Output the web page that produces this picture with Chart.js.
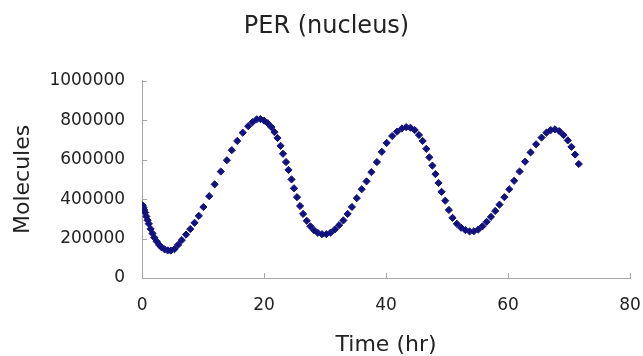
<!DOCTYPE html>
<html>
<head>
<meta charset="utf-8">
<script src="https://cdn.jsdelivr.net/npm/chart.js@4/dist/chart.umd.min.js"></script>
<style>
  html, body { margin: 0; padding: 0; background: #fff; }
  canvas { display: block; }
</style>
</head>
<body>
<canvas id="grafico" width="643" height="356"></canvas>
<script>
// PER (nucleus) - molecules over time

const tempos = [
  0, 0.1, 0.2, 0.35, 0.5, 0.7, 0.9, 1.1, 1.4, 1.7,
  2.0, 2.4, 2.8, 3.2, 3.7, 4.2, 4.7, 5.3, 5.9, 6.5,
  7.2, 7.9, 8.6, 9.3, 10.05, 11.0, 11.9, 12.9, 13.9, 14.7,
  15.6, 16.5, 17.4, 18.1, 18.8, 19.4, 20.0, 20.6, 21.2, 21.7,
  22.2, 22.7, 23.1, 23.6, 24.0, 24.5, 24.9, 25.4, 25.9, 26.4,
  27.0, 27.6, 28.2, 28.8, 29.5, 30.2, 30.9, 31.6, 32.3, 33.0,
  33.7, 34.4, 35.2, 36.0, 36.8, 37.6, 38.5, 39.3, 40.1, 41.0,
  41.8, 42.6, 43.3, 44.0, 44.7, 45.4, 46.0, 46.6, 47.1, 47.6,
  48.1, 48.6, 49.1, 49.7, 50.3, 50.9, 51.6, 52.3, 53.0, 53.7,
  54.4, 55.1, 55.8, 56.5, 57.2, 57.9, 58.6, 59.4, 60.2, 61.0,
  61.9, 62.8, 63.7, 64.6, 65.5, 66.3, 67.0, 67.7, 68.4, 69.1,
  69.8, 70.4, 71.0, 71.6
];

const moleculas = [
  370000, 366000, 358000, 345000, 332000, 312000, 293000, 275000, 249000, 226000,
  205000, 185000, 168000, 155000, 145000, 140000, 139000, 146000, 168000, 192000,
  220000, 248000, 280000, 315000, 360000, 415000, 475000, 540000, 597000, 648000,
  695000, 737000, 770000, 790000, 805000, 806000, 798000, 785000, 765000, 740000,
  710000, 670000, 630000, 588000, 548000, 500000, 455000, 410000, 365000, 325000,
  290000, 262000, 242000, 229000, 222000, 222000, 230000, 246000, 268000, 292000,
  325000, 360000, 405000, 450000, 490000, 537000, 588000, 640000, 685000, 720000,
  742000, 758000, 765000, 762000, 750000, 725000, 695000, 655000, 612000, 570000,
  527000, 482000, 437000, 392000, 345000, 305000, 275000, 255000, 243000, 236000,
  237000, 245000, 262000, 285000, 310000, 340000, 372000, 410000, 450000, 493000,
  540000, 590000, 637000, 678000, 712000, 737000, 750000, 754000, 745000, 725000,
  698000, 665000, 626000, 578000
];

const ticksX = [0, 20, 40, 60, 80];
const ticksY = [0, 200000, 400000, 600000, 800000, 1000000];

const corPontos = '#12127e';
const corEixo = '#a6a6a6';
const corTexto = '#222222';
const fonte = '"DejaVu Sans", sans-serif';

// ticks pequenos para dentro da area do grafico
const ticksInternos = {
  id: 'ticksInternos',
  afterDraw(chart) {
    const { ctx, chartArea, scales } = chart;
    ctx.save();
    ctx.strokeStyle = corEixo;
    ctx.lineWidth = 1;
    scales.x.ticks.forEach(t => {
      const px = Math.round(scales.x.getPixelForValue(t.value)) + 0.5;
      ctx.beginPath();
      ctx.moveTo(px, chartArea.bottom);
      ctx.lineTo(px, chartArea.bottom - 5);
      ctx.stroke();
    });
    scales.y.ticks.forEach(t => {
      const py = Math.round(scales.y.getPixelForValue(t.value)) + 0.5;
      ctx.beginPath();
      ctx.moveTo(chartArea.left, py);
      ctx.lineTo(chartArea.left + 5, py);
      ctx.stroke();
    });
    ctx.restore();
  }
};

const pontos = tempos.map((t, i) => ({ x: t, y: moleculas[i] }));

new Chart(document.getElementById('grafico').getContext('2d'), {
  type: 'scatter',
  data: {
    datasets: [{
      label: 'PER (nucleus)',
      data: pontos,
      pointStyle: 'rectRot',
      pointRadius: 3.6,
      backgroundColor: corPontos,
      borderColor: corPontos,
      borderWidth: 1,
      showLine: false
    }]
  },
  options: {
    responsive: false,
    animation: false,
    layout: { padding: { top: 12, right: 0, left: 10, bottom: -2 } },
    plugins: {
      legend: { display: false },
      tooltip: { enabled: false },
      title: {
        display: true,
        text: 'PER (nucleus)',
        color: corTexto,
        font: { family: fonte, size: 24, weight: 'normal' },
        padding: { top: 0, bottom: 40 }
      }
    },
    scales: {
      x: {
        type: 'linear',
        min: 0,
        max: 80,
        afterBuildTicks: axis => { axis.ticks = ticksX.map(v => ({ value: v })); },
        afterFit: axis => { axis.paddingRight = 13; axis.height = 80; },
        ticks: {
          color: corTexto,
          font: { family: fonte, size: 17 },
          padding: 17,
          maxRotation: 0,
          callback: v => String(v)
        },
        grid: { display: true, drawOnChartArea: false, drawTicks: false },
        border: { display: true, color: corEixo, width: 1 },
        title: {
          display: true,
          text: 'Time (hr)',
          color: corTexto,
          font: { family: fonte, size: 22 },
          padding: { top: 0, bottom: 0 }
        }
      },
      y: {
        type: 'linear',
        min: 0,
        max: 1000000,
        afterBuildTicks: axis => { axis.ticks = ticksY.map(v => ({ value: v })); },
        ticks: {
          color: corTexto,
          font: { family: fonte, size: 17 },
          padding: 17,
          callback: v => String(v)
        },
        grid: { display: true, drawOnChartArea: false, drawTicks: false },
        border: { display: true, color: corEixo, width: 1 },
        title: {
          display: true,
          text: 'Molecules',
          color: corTexto,
          font: { family: fonte, size: 22 },
          padding: { top: 0, bottom: -4 }
        }
      }
    }
  },
  plugins: [ticksInternos]
});
</script>
</body>
</html>
